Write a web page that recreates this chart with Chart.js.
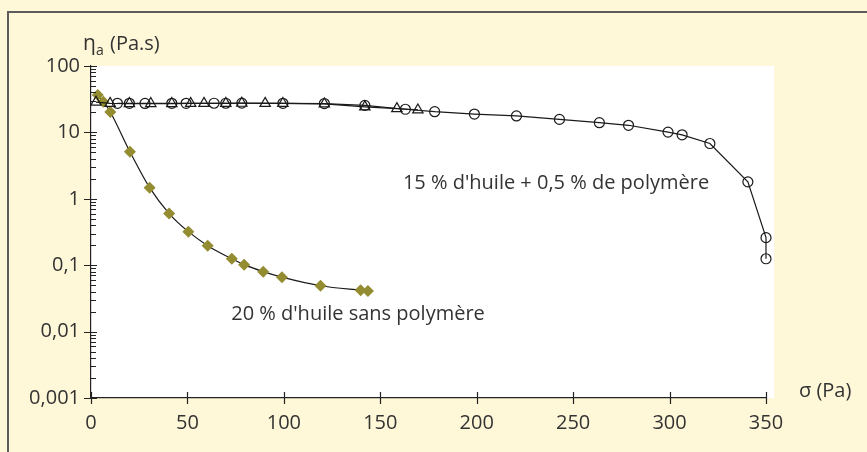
<!DOCTYPE html>
<html>
<head>
<meta charset="utf-8">
<script src="https://cdn.jsdelivr.net/npm/chart.js@4.4.1/dist/chart.umd.min.js"></script>
<style>
  html, body { margin: 0; padding: 0; background: #fef8d8; }
  #wrap { width: 867px; height: 452px; position: relative; }
</style>
</head>
<body>
<div id="wrap"><canvas id="graph" width="867" height="452"></canvas></div>
<script>
// 20 % d'huile sans polymère (diamonds)
var sansX = [3.5, 6.4, 10, 20.2, 30.4, 40.5, 50.5, 60.5, 73, 79.4, 89.3, 99, 119, 139.8, 143.6];
var sansY = [36.6, 29, 20.3, 5.1, 1.47, 0.6, 0.32, 0.197, 0.125, 0.102, 0.08, 0.066, 0.049, 0.042, 0.041];

// 15 % d'huile + 0,5 % de polymère (circles)
var polyX = [13.7, 19.9, 28, 41.9, 49.3, 63.8, 69.9, 78.2, 99.5, 121, 142, 163, 178.2, 198.8, 220.6, 242.9, 263.6, 278.7, 299.2, 306.5, 320.9, 340.6, 350, 350];
var polyY = [27.4, 27.4, 27.3, 27.4, 27.4, 27.5, 27.5, 27.6, 27.4, 27.2, 25.5, 22.3, 20.5, 18.9, 17.7, 15.7, 14.0, 12.8, 10.1, 9.2, 6.8, 1.8, 0.26, 0.125];

// second run, same composition (triangles)
var triX = [2.6, 9.9, 19.9, 31, 41.9, 51.7, 58.6, 69.9, 78.2, 90.3, 99.5, 121, 142, 158.6, 169.5];
var triY = [28.5, 27.4, 27.2, 27.2, 27.2, 27.3, 27.4, 27.4, 27.5, 27.4, 27.3, 26.8, 24.2, 22.8, 21.8];

var xTicks = [0, 50, 100, 150, 200, 250, 300, 350];
var yTickValues = [0.001, 0.01, 0.1, 1, 10, 100];
var yTickLabels = ['0,001', '0,01', '0,1', '1', '10', '100'];

function pts(xs, ys) {
    var out = [];
    for (var i = 0; i < xs.length; i++) out.push({x: xs[i], y: ys[i]});
    return out;
}

var FONT = '"Open Sans", "DejaVu Sans", sans-serif';
var TEXT = '#333333';
var OLIVE = '#938c31';

//background, frame, white plot area, hand-made tick marks and texts
var decor = {
    id: 'decor',
    beforeDraw: function (chart) {
        var c = chart.ctx, a = chart.chartArea;
        c.save();
        c.fillStyle = '#fef8d8';
        c.fillRect(0, 0, chart.width, chart.height);
        c.strokeStyle = '#5c5c5c';
        c.lineWidth = 2;
        c.beginPath();
        c.moveTo(8, chart.height);
        c.lineTo(8, 12);
        c.lineTo(chart.width, 12);
        c.stroke();
        c.fillStyle = '#ffffff';
        c.fillRect(a.left, a.top, a.right - a.left + 8, a.bottom - a.top);
        c.restore();
    },
    afterDraw: function (chart) {
        var c = chart.ctx, a = chart.chartArea;
        var ys = chart.scales.y, xs = chart.scales.x;
        c.save();
        c.strokeStyle = '#222';
        c.lineWidth = 1.2;
        c.beginPath();
        // y ticks: majors cross the axis, minors inside
        for (var d = -3; d <= 2; d++) {
            var base = Math.pow(10, d);
            var py = Math.round(ys.getPixelForValue(base)) + 0.5;
            c.moveTo(a.left - 7, py);
            c.lineTo(a.left + 6, py);
            if (d == 2) break;
            for (var k = 2; k <= 9; k++) {
                var my = Math.round(ys.getPixelForValue(k * base)) + 0.5;
                c.moveTo(a.left, my);
                c.lineTo(a.left + 5, my);
            }
        }
        xTicks.forEach(function (v) {
            var px = Math.round(xs.getPixelForValue(v)) + 0.5;
            c.moveTo(px, a.bottom - 6);
            c.lineTo(px, a.bottom + 6);
        });
        c.stroke();

        c.fillStyle = TEXT;
        c.textBaseline = 'alphabetic';
        c.font = '21px ' + FONT;
        c.textAlign = 'left';
        c.fillText('\u03B7', 83, 50);
        c.font = '14px ' + FONT;
        c.fillText('a', 96, 55);
        c.font = '20px ' + FONT;
        c.fillText('(Pa.s)', 110, 50);
        c.fillText('\u03C3 (Pa)', 799, 397);
        c.textAlign = 'center';
        c.fillText('15 % d\'huile + 0,5 % de polymère', 556, 189);
        c.fillText('20 % d\'huile sans polymère', 358, 320);
        c.restore();
    }
};

new Chart(document.getElementById('graph'), {
    type: 'scatter',
    data: {
        datasets: [{
            data: pts(polyX, polyY),
            showLine: true,
            borderColor: '#1a1a1a',
            borderWidth: 1.2,
            pointStyle: 'circle',
            pointRadius: 5,
            pointBorderWidth: 1.2,
            pointBorderColor: '#1a1a1a',
            pointBackgroundColor: 'rgba(0,0,0,0)',
            clip: false
        }, {
            data: pts(triX, triY),
            showLine: true,
            borderColor: '#1a1a1a',
            borderWidth: 1.2,
            pointStyle: 'triangle',
            pointRadius: 6,
            pointBorderWidth: 1.2,
            pointBorderColor: '#1a1a1a',
            pointBackgroundColor: 'rgba(0,0,0,0)',
            clip: false
        }, {
            data: pts(sansX, sansY),
            showLine: true,
            cubicInterpolationMode: 'monotone',
            borderColor: '#1a1a1a',
            borderWidth: 1.2,
            pointStyle: 'rectRot',
            pointRadius: 6,
            pointBorderWidth: 0,
            pointBackgroundColor: OLIVE,
            clip: false
        }]
    },
    options: {
        responsive: false,
        animation: false,
        layout: { padding: { left: 0, top: 66, right: 101, bottom: 0 } },
        plugins: { legend: { display: false }, tooltip: { enabled: false } },
        scales: {
            x: {
                type: 'linear',
                min: 0,
                max: 350,
                afterFit: function (s) { s.height = 54; },
                afterBuildTicks: function (s) {
                    s.ticks = xTicks.map(function (v) { return {value: v}; });
                },
                grid: { display: false, drawTicks: false },
                border: { display: true, color: '#222', width: 1.2 },
                ticks: {
                    color: TEXT,
                    font: { family: FONT, size: 20 },
                    padding: 13,
                    maxRotation: 0
                }
            },
            y: {
                type: 'logarithmic',
                min: 0.001,
                max: 100,
                afterFit: function (s) { s.width = 91; },
                afterBuildTicks: function (s) {
                    s.ticks = yTickValues.map(function (v) { return {value: v}; });
                },
                grid: { display: false, drawTicks: false },
                border: { display: true, color: '#222', width: 1.2 },
                ticks: {
                    color: TEXT,
                    font: { family: FONT, size: 20 },
                    padding: 11,
                    autoSkip: false,
                    callback: function (v) {
                        var i = yTickValues.indexOf(v);
                        return i < 0 ? '' : yTickLabels[i];
                    }
                }
            }
        }
    },
    plugins: [decor]
});
</script>
</body>
</html>
